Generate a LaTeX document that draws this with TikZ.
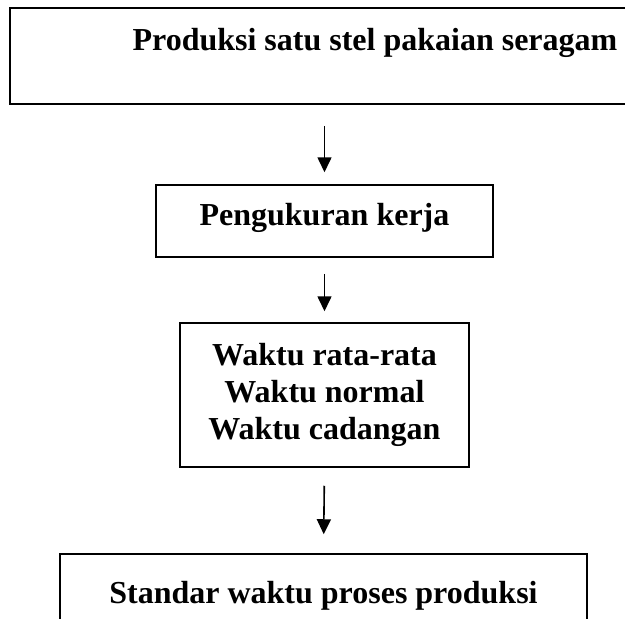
\documentclass[tikz,border=0pt]{standalone}
\usepackage{fontspec}
\setmainfont{Liberation Serif}
\usetikzlibrary{arrows.meta}
\tikzset{
  boxnode/.style={draw, line width=1.5pt, inner ysep=0pt, inner xsep=4pt,
    font=\bfseries\fontsize{32}{37}\selectfont},
  arr/.style={line width=1.6pt, -{Triangle[length=15pt,width=14pt]}}
}
\begin{document}
\begin{tikzpicture}[x=1pt,y=-1pt]
\useasboundingbox (0,0) rectangle (625,619);
\clip (0,0) rectangle (625,619);
\node[boxnode, minimum width=730pt, text height=42pt, text depth=54pt] (top) at (375,56) {Produksi satu stel pakaian seragam};
\node[boxnode, minimum width=337pt, text height=40pt, text depth=32pt] (b2) at (324.5,221) {Pengukuran kerja};
\node[boxnode, minimum width=289pt, minimum height=144pt, align=center] (b3) at (324.5,395) {Waktu rata-rata\\Waktu normal\\Waktu cadangan};
\node[boxnode, minimum width=527pt, text height=49pt, text depth=47pt] (b4) at (323.5,602) {Standar waktu proses produksi};
\draw[arr, shorten <=21pt, shorten >=12pt] (top.south -| b2.north) -- (b2.north);
\draw[arr, shorten <=16pt, shorten >=11pt] (b2.south) -- (b3.north);
\draw[arr, shorten <=18pt, shorten >=19pt] (b3.south) -- (b4.north);
\end{tikzpicture}
\end{document}
